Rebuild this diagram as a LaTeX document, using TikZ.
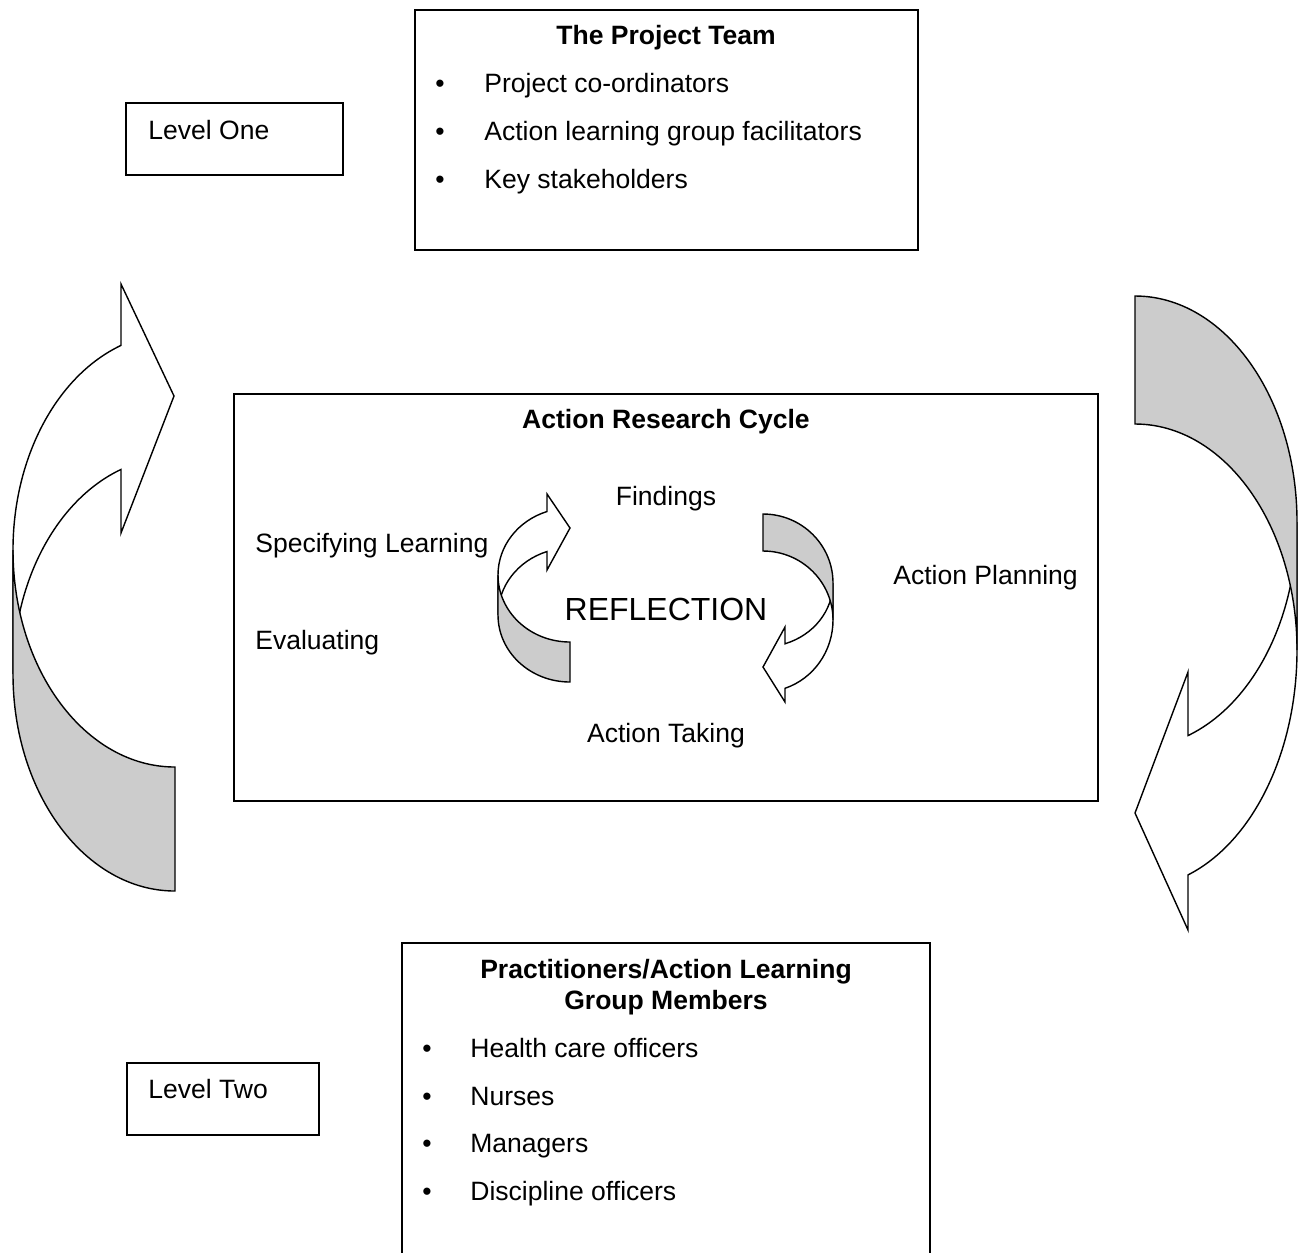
\documentclass[tikz,border=0pt]{standalone}
\usepackage{fontspec}
\setmainfont{Liberation Sans}
\usepackage{xcolor}
\usepackage{tikz}
\usetikzlibrary{positioning}
\definecolor{bandgrey}{HTML}{CCCCCC}

\begin{document}
\begin{tikzpicture}[x=0.02cm,y=-0.02cm,
  font=\fontsize{15.1}{18}\selectfont,
  boxline/.style={black, line width=0.8pt},
  frontband/.style={draw=black, fill=white, line width=0.8pt, line join=miter},
  backband/.style={draw=black, fill=bandgrey, line width=0.8pt},
  txt/.style={anchor=base west, inner sep=0pt},
  mid/.style={anchor=base, inner sep=0pt},
  boxtitle/.style={anchor=base, inner sep=0pt, font=\fontsize{15.1}{18}\selectfont\bfseries}]

  \useasboundingbox (0,0) rectangle (1307,1252);

  % ----- caixas -----
  \draw[boxline] (126,103) rectangle (343,175);    % Level One
  \draw[boxline] (415,10) rectangle (918,250);     % Project Team
  \draw[boxline] (234,394) rectangle (1098,801);   % ciclo
  \draw[boxline] (402,1262) -- (402,943) -- (930,943) -- (930,1262); % Practitioners
  \draw[boxline] (127,1063) rectangle (319,1135);  % Level Two

  % ----- níveis -----
  \node[txt] (levelone) at (148,139) {Level One};
  \node[txt] (leveltwo) at (148,1098) {Level Two};

  % ----- equipa do projecto -----
  \node[boxtitle] (teamtitle) at (666,44) {The Project Team};
  \foreach \entry/\yb [count=\i] in {Project co-ordinators/92,
      Action learning group facilitators/140, Key stakeholders/188} {
    \node[mid] (teamdot\i) at (440,\yb) {•};
    \node[txt] (team\i) at (484,\yb) {\entry};
  }

  % ----- praticantes -----
  \node[boxtitle] (prac1) at (666,978) {Practitioners/Action Learning};
  \node[boxtitle] (prac2) at (666,1009) {Group Members};
  \foreach \entry/\yb [count=\i] in {Health care officers/1057, Nurses/1105,
      Managers/1152, Discipline officers/1200} {
    \node[mid] (pracdot\i) at (427,\yb) {•};
    \node[txt] (pracitem\i) at (470,\yb) {\entry};
  }

  % ----- ciclo de investigação-acção -----
  \node[boxtitle] (cycletitle) at (666,428) {Action Research Cycle};
  \node[mid] (findings) at (666,505) {Findings};
  \node[txt] (specifying) at (255,552) {Specifying Learning};
  \node[txt] (planning) at (893,584) {Action Planning};
  \node[mid, font=\fontsize{18.2}{22}\selectfont] (reflection) at (666,620) {REFLECTION};
  \node[txt] (evaluating) at (255,649) {Evaluating};
  \node[mid] (taking) at (666,742) {Action Taking};

  % ----- seta curva grande, esquerda -----
  \filldraw[frontband] (121,345.4)
    arc[start angle=250.53, end angle=180, x radius=162, y radius=217]
    -- (13,674)
    arc[start angle=180, end angle=250.53, x radius=162, y radius=217]
    -- (121,533) -- (174,396) -- (121,284) -- cycle;
  \filldraw[backband] (175,891)
    arc[start angle=90, end angle=180, x radius=162, y radius=217]
    -- (13,550)
    arc[start angle=180, end angle=90, x radius=162, y radius=217]
    -- cycle;

  % ----- seta curva grande, direita -----
  \filldraw[frontband] (1188,874.9)
    arc[start angle=70.9, end angle=0, x radius=162, y radius=238]
    -- (1297,522)
    arc[start angle=0, end angle=70.9, x radius=162, y radius=226]
    -- (1188,672) -- (1135,813) -- (1188,930) -- cycle;
  \filldraw[backband] (1135,296)
    arc[start angle=270, end angle=360, x radius=162, y radius=226]
    -- (1297,650)
    arc[start angle=360, end angle=270, x radius=162, y radius=226]
    -- cycle;

  % ----- seta curva pequena, esquerda -----
  \filldraw[frontband] (547,511.5)
    arc[start angle=251.37, end angle=180, x radius=72, y radius=67]
    -- (498,615)
    arc[start angle=180, end angle=251.37, x radius=72, y radius=67]
    -- (547,570) -- (570,528) -- (547,494) -- cycle;
  \filldraw[backband] (570,682)
    arc[start angle=90, end angle=180, x radius=72, y radius=67]
    -- (498,575)
    arc[start angle=180, end angle=90, x radius=72, y radius=67]
    -- cycle;

  % ----- seta curva pequena, direita -----
  \filldraw[frontband] (785,688.3)
    arc[start angle=71.68, end angle=0, x radius=70, y radius=72]
    -- (833,583)
    arc[start angle=0, end angle=71.68, x radius=70, y radius=64]
    -- (785,627) -- (763,667) -- (785,702) -- cycle;
  \filldraw[backband] (763,514)
    arc[start angle=270, end angle=360, x radius=70, y radius=69]
    -- (833,620)
    arc[start angle=360, end angle=270, x radius=70, y radius=69]
    -- cycle;

\end{tikzpicture}
\end{document}
